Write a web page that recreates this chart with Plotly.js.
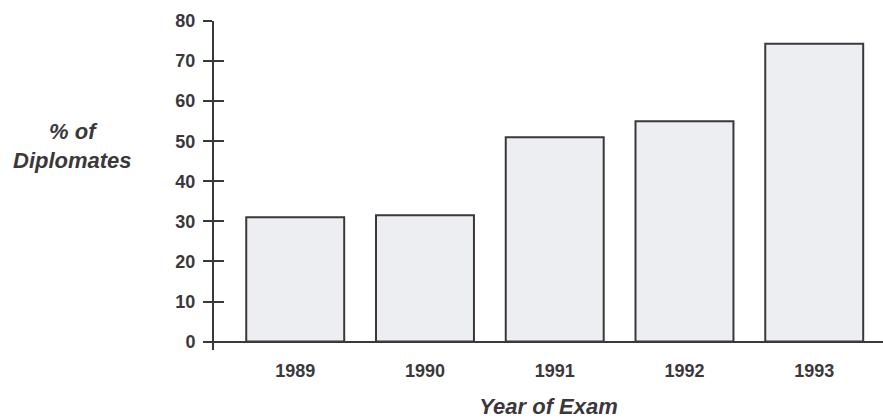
<!DOCTYPE html>
<html>
<head>
<meta charset="utf-8">
<script src="https://cdn.plot.ly/plotly-3.0.1.min.js"></script>
<style>html,body{margin:0;padding:0;background:#fff;}#chart{width:883px;height:419px;}</style>
</head>
<body>
<div id="chart"></div>
<script>
const years = ['1989', '1990', '1991', '1992', '1993'];
const percentDiplomates = [31, 31.5, 51, 55, 74.3];
const yTickValues = [0, 10, 20, 30, 40, 50, 60, 70, 80];

const ink = '#3b383c';
const fontFam = 'Liberation Sans, Arial, sans-serif';

const bars = {
  type: 'bar',
  x: years,
  y: percentDiplomates,
  marker: { color: '#eceef2', line: { color: ink, width: 2 } },
  hoverinfo: 'skip'
};

// carrier for the overlay axis that draws the inner half of each tick (draws nothing itself)
const tickCarrier = {
  type: 'scatter', mode: 'none',
  x: years, y: percentDiplomates,
  yaxis: 'y2', hoverinfo: 'skip', showlegend: false
};

const yRange = [-2.1, 80];

const layout = {
  width: 883, height: 419,
  margin: { l: 214, r: 0, t: 21, b: 69 },
  paper_bgcolor: '#ffffff', plot_bgcolor: '#ffffff',
  showlegend: false,
  bargap: 0.245,
  font: { family: fontFam, color: ink },
  xaxis: {
    type: 'category',
    range: [-0.626, 4.53],
    showline: false, showgrid: false, zeroline: false,
    ticks: '',
    tickfont: { family: fontFam, size: 18, color: ink, weight: 'bold' },
    ticklabelstandoff: 8,
    title: { text: '<b><i>Year of Exam</i></b>', font: { family: fontFam, size: 22, color: ink }, standoff: 22 }
  },
  yaxis: {
    range: yRange,
    tickvals: yTickValues,
    showline: true, linecolor: ink, linewidth: 2,
    showgrid: false,
    zeroline: true, zerolinecolor: ink, zerolinewidth: 2,
    ticks: 'outside', ticklen: 9, tickwidth: 2, tickcolor: ink,
    tickfont: { family: fontFam, size: 18, color: ink, weight: 'bold' },
    ticklabelstandoff: 4
  },
  yaxis2: {
    range: yRange,
    overlaying: 'y', side: 'left',
    tickvals: yTickValues,
    showline: false, showgrid: false, zeroline: false,
    ticks: 'inside', ticklen: 10, tickwidth: 2, tickcolor: ink,
    showticklabels: false
  },
  annotations: [{
    text: '<b><i>% of<br>Diplomates</i></b>',
    xref: 'paper', yref: 'paper',
    x: (72 - 214) / 669, y: 1 - (146 - 21) / 329,
    xanchor: 'center', yanchor: 'middle', align: 'center',
    showarrow: false,
    font: { family: fontFam, size: 22, color: ink }
  }]
};

Plotly.newPlot('chart', [bars, tickCarrier], layout, { staticPlot: true, displayModeBar: false });
</script>
</body>
</html>
